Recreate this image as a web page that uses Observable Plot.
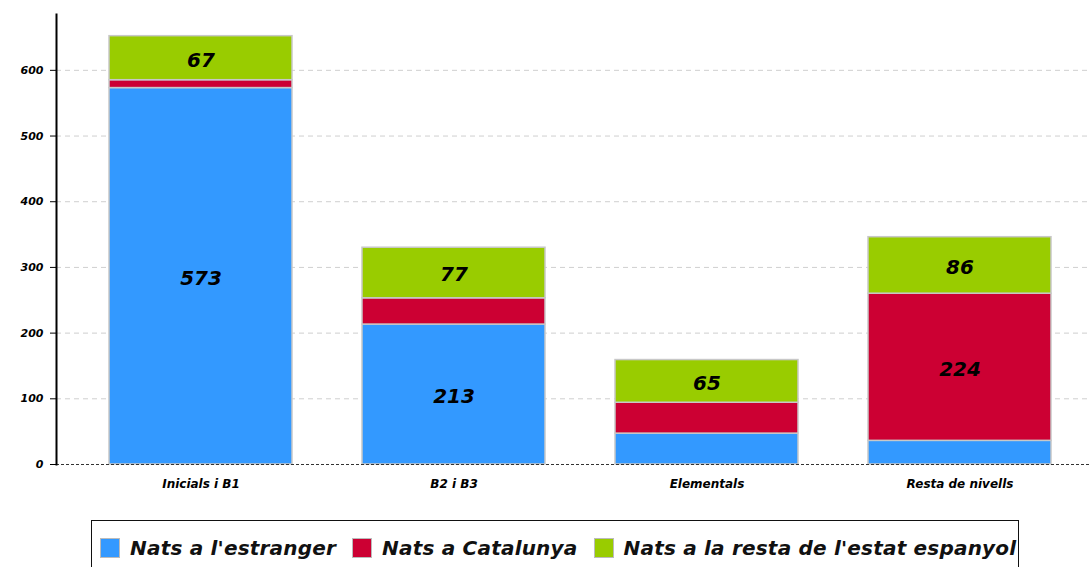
<!DOCTYPE html>
<html>
<head>
<meta charset="utf-8">
<script src="https://cdn.jsdelivr.net/npm/d3@7"></script>
<script src="https://cdn.jsdelivr.net/npm/@observablehq/plot@0.6"></script>
<style>
  html, body { margin: 0; padding: 0; background: #fff; }
  #chart svg { display: block; }
  #legend {
    position: absolute; left: 91px; top: 520px; width: 928px; height: 60px;
    border: 1.5px solid #111; box-sizing: border-box;
    font-family: "DejaVu Sans", sans-serif;
    font-style: italic; font-weight: bold; font-size: 20px; letter-spacing: 0.2px; color: #111;
    display: flex; align-items: flex-start; padding-top: 15px; padding-left: 8px;
  }
  .item { display: flex; align-items: center; margin-right: 16px; white-space: nowrap; }
  .sw { width: 20px; height: 20px; margin-right: 10px; border: 1px solid #bbb; box-sizing: border-box; }
</style>
</head>
<body>
<div id="chart"></div>
<div id="legend"></div>
<script>
const categories = ["Inicials i B1", "B2 i B3", "Elementals", "Resta de nivells"];
const seriesNames = ["Nats a l'estranger", "Nats a Catalunya", "Nats a la resta de l'estat espanyol"];
const natsEstranger = [573, 213, 47, 36];
const natsCatalunya = [12, 40, 47, 224];
const natsRestaEstat = [67, 77, 65, 86];
const seriesColors = ["#3399ff", "#cc0033", "#99cc00"];
const yTicks = [0, 100, 200, 300, 400, 500, 600];

const seriesValues = [natsEstranger, natsCatalunya, natsRestaEstat];
const data = [];
seriesNames.forEach((s, i) => {
  categories.forEach((c, j) => data.push({cat: c, series: s, value: seriesValues[i][j]}));
});

const chart = Plot.plot({
  width: 1091, height: 500,
  marginLeft: 56, marginRight: 0, marginTop: 14, marginBottom: 36,
  style: {fontFamily: "DejaVu Sans", background: "#fff"},
  x: {domain: categories, range: [57.5, 1103], paddingInner: 0.276, paddingOuter: 0.2, label: null},
  y: {domain: [0, 685], label: null},
  color: {domain: seriesNames, range: seriesColors},
  marks: [
    Plot.gridY(yTicks.filter(d => d > 0), {stroke: "#cfcfcf", strokeOpacity: 1, strokeDasharray: "5,4"}),
    Plot.barY(data, Plot.stackY({x: "cat", y: "value", fill: "series", stroke: "#c8c8c8", strokeWidth: 1.5})),
    Plot.text(data, Plot.stackY({x: "cat", y: "value", text: d => d.value >= 60 ? String(d.value) : "",
      fontSize: 20, fontWeight: "bold", fontStyle: "italic", fill: "#000", dy: 2})),
    Plot.ruleY([0], {stroke: "#333", strokeDasharray: "3,2", strokeWidth: 1.2}),
    Plot.frame({anchor: "left", stroke: "#000", strokeWidth: 2}),
    Plot.axisY({ticks: yTicks, tickSize: 6, tickPadding: 7, label: null, fontSize: 11, fontStyle: "italic", fontWeight: "bold", tickFormat: d => String(d)}),
    Plot.axisX({tickSize: 0, tickPadding: 15, label: null, fontSize: 12, fontStyle: "italic", fontWeight: "bold"})
  ]
});
document.getElementById("chart").appendChild(chart);

const legend = document.getElementById("legend");
seriesNames.forEach((s, i) => {
  const item = document.createElement("div");
  item.className = "item";
  const sw = document.createElement("div");
  sw.className = "sw";
  sw.style.background = seriesColors[i];
  const t = document.createElement("span");
  t.textContent = s;
  item.appendChild(sw); item.appendChild(t);
  legend.appendChild(item);
});
</script>
</body>
</html>
